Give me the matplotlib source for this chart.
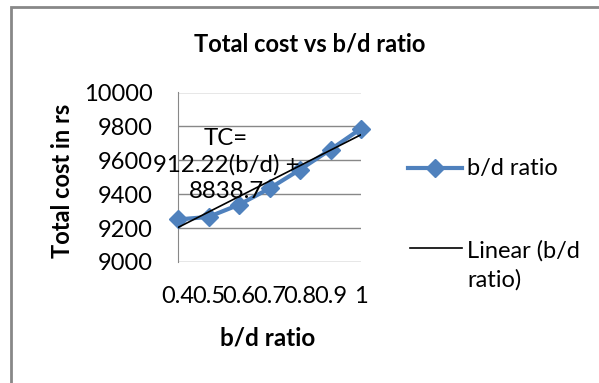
import numpy as np
import matplotlib.pyplot as plt
from matplotlib.patches import Rectangle
from matplotlib.lines import Line2D

plt.rcParams['font.family'] = ['Lato', 'DejaVu Sans']

bd_ratio = [0.4, 0.5, 0.6, 0.7, 0.8, 0.9, 1.0]
total_cost = [9251, 9266, 9338, 9434, 9545, 9663, 9787]
tick_labels = ['0.4', '0.5', '0.6', '0.7', '0.8', '0.9', '1']

# linear trendline from the fitted equation
slope, intercept = 912.22, 8838.7
trend = [slope * x + intercept for x in bd_ratio]

blue = '#4F81BD'
grey = '#888888'
W, H = 599, 383

fig = plt.figure(figsize=(W / 100, H / 100), dpi=100)
fig.patch.set_facecolor('white')

# outer chart frame
fig.patches.append(Rectangle((11 / W, -0.1), 1.2, 1 - 6.5 / H + 0.1,
                             transform=fig.transFigure, fill=False,
                             edgecolor=grey, linewidth=2))

ax = fig.add_axes([178 / W, 1 - 262 / H, 183 / W, 169.5 / H])
ax.plot(bd_ratio, total_cost, color=blue, linewidth=3, marker='D',
        markersize=9, zorder=3, clip_on=False)
ax.plot(bd_ratio, trend, color='black', linewidth=1.2, zorder=4)

ax.set_xlim(0.4, 1.0)
ax.set_ylim(9000, 10000)
ax.set_yticks(range(9000, 10001, 200))
ax.set_xticks(bd_ratio)
ax.set_xticklabels(tick_labels)
ax.tick_params(axis='both', length=0, labelsize=17)
ax.tick_params(axis='y', pad=18)
ax.tick_params(axis='x', pad=17)
ax.grid(axis='y', color=grey, linewidth=1)
for side in ['top', 'right', 'bottom']:
    ax.spines[side].set_visible(False)
ax.spines['left'].set_color(grey)
ax.set_axisbelow(True)

fig.text(310 / W, 1 - 44 / H, 'Total cost vs b/d ratio', ha='center',
         va='center', fontsize=17, fontweight='bold')
fig.text(62 / W, 1 - 181 / H, 'Total cost in rs', ha='center',
         va='center', rotation=90, fontsize=17, fontweight='bold')
fig.text(268 / W, 1 - 338 / H, 'b/d ratio', ha='center',
         va='center', fontsize=17.5, fontweight='bold')

fig.text(226 / W, 1 - 165 / H, 'TC=\n912.22(b/d) +\n8838.7',
         ha='center', va='center', fontsize=17.3, linespacing=1.3)

# legend drawn by hand on the right
fig.add_artist(Line2D([408 / W, 462 / W], [1 - 168 / H] * 2, color=blue,
                      linewidth=3, transform=fig.transFigure))
fig.add_artist(Line2D([435 / W], [1 - 168 / H], color=blue, marker='D',
                      markersize=9, transform=fig.transFigure))
fig.text(467 / W, 1 - 168 / H, 'b/d ratio', ha='left', va='center',
         fontsize=17)
fig.add_artist(Line2D([410 / W, 462 / W], [1 - 248 / H] * 2, color='black',
                      linewidth=1.2, transform=fig.transFigure))
fig.text(467 / W, 1 - 265.5 / H, 'Linear (b/d\nratio)', ha='left',
         va='center', fontsize=17, linespacing=1.45)

fig.savefig('out.png', dpi=100)
